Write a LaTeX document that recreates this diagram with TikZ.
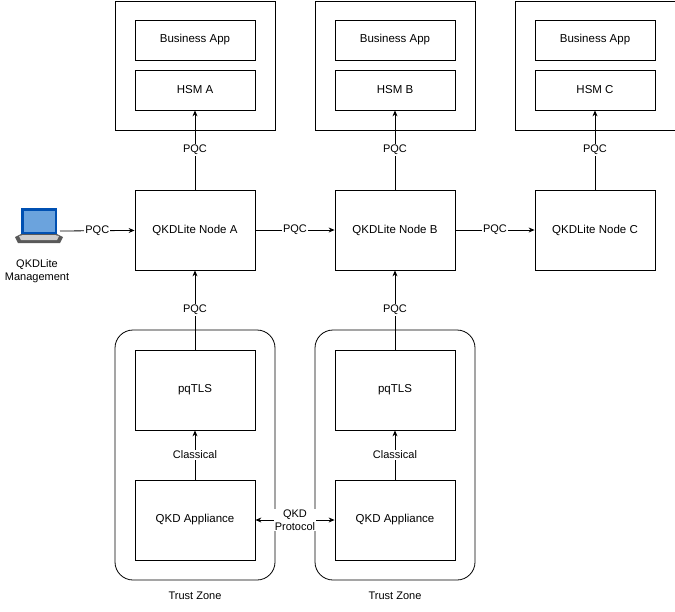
\documentclass[tikz,border=0pt]{standalone}
\usepackage{fontspec}
\setmainfont{Liberation Sans}
\usetikzlibrary{arrows.meta}
\begin{document}
\begin{tikzpicture}[x=1pt,y=-1pt,
  box/.style={draw,line width=0.8pt,minimum width=120pt,inner sep=0pt,font=\fontsize{11.5}{13}\selectfont},
  outer/.style={draw,line width=0.8pt,minimum width=160pt,minimum height=129pt,inner sep=0pt},
  zone/.style={draw,line width=0.8pt,rounded corners=18pt,minimum width=160pt,minimum height=250pt,inner sep=0pt},
  arr/.style={-{Stealth[length=6pt,width=5pt]},line width=0.8pt},
  lbl/.style={fill=white,inner sep=1pt,font=\fontsize{11}{12.5}\selectfont,align=center}]
\useasboundingbox (0,0) rectangle (675,611);
% top boxes
\foreach \n/\x in {A/195,B/395,C/595}{
  \node[outer] (o\n) at (\x,65.5) {};
  \node[box,minimum height=40pt] (ba\n) at (\x,40) {Business App};
  \node[box,minimum height=40pt] (h\n) at (\x,90) {HSM \n};
  \node[box,minimum height=80pt] (n\n) at (\x,230) {QKDLite Node \n};
  \draw[arr] (n\n) -- node[lbl]{PQC} (h\n);
}
% trust zones
\foreach \n/\x in {A/195,B/395}{
  \node[zone] (z\n) at (\x,455) {};
  \node[font=\fontsize{11}{12.5}\selectfont,anchor=north] (tz\n) at (\x,588) {Trust Zone};
  \node[box,minimum height=80pt] (p\n) at (\x,390) {pqTLS};
  \node[box,minimum height=80pt] (q\n) at (\x,520) {QKD Appliance};
  \draw[arr] (q\n) -- node[lbl]{Classical} (p\n);
  \draw[arr] (p\n) -- node[lbl]{PQC} (n\n);
}
\draw[arr] (nA) -- node[lbl]{PQC} (nB);
\draw[arr] (nB) -- node[lbl]{PQC} (nC);
\draw[{Stealth[length=6pt,width=5pt]}-{Stealth[length=6pt,width=5pt]},line width=0.8pt] (qA) -- node[lbl,fill=white]{QKD\\Protocol} (qB);
% laptop
\coordinate (lap) at (60,231);
\fill[blue!55!cyan!70!black] (21,208) rectangle (57,234);
\fill[cyan!60!blue!60] (23.5,210.5) rectangle (54.5,231.5);
\fill[gray!70!black] (15,237) -- (21,234) -- (57,234) -- (63,237) -- (60,243) -- (18,243) -- cycle;
\fill[gray!40] (19,236) -- (23,235) -- (55,235) -- (59,236) -- (57,240) -- (21,240) -- cycle;
\node[font=\fontsize{11}{12.5}\selectfont,align=center] (mgmt) at (37,271) {QKDLite\\Management};
\draw[arr] (lap) -- node[lbl]{PQC} (nA);
\end{tikzpicture}
\end{document}
